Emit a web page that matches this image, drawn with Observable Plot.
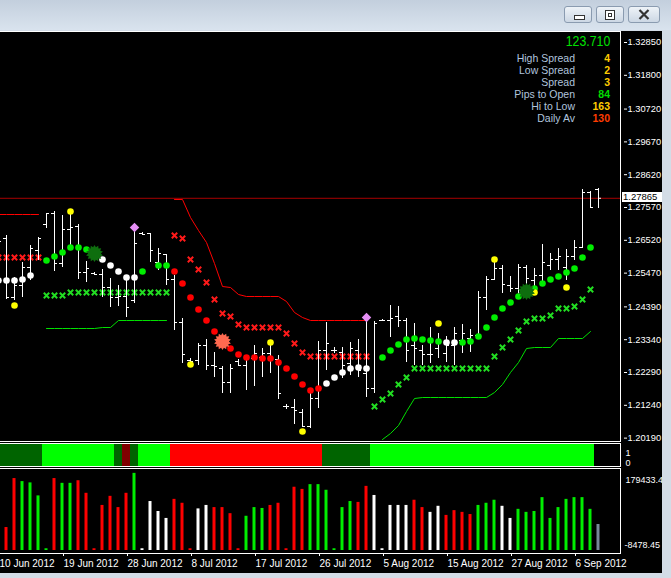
<!DOCTYPE html>
<html><head><meta charset="utf-8">
<script src="https://cdn.jsdelivr.net/npm/d3@7"></script>
<script src="https://cdn.jsdelivr.net/npm/@observablehq/plot@0.6"></script>
<style>
html,body{margin:0;padding:0;background:#d3dce6;}
#win{position:relative;width:671px;height:578px;overflow:hidden;background:#d3dce6;font-family:"Liberation Sans",Arial,sans-serif;}
#title{position:absolute;left:0;top:0;width:671px;height:30px;background:linear-gradient(#c3cfdd,#d9e3ee);}
.btn{position:absolute;top:6px;height:17px;border:1px solid #8a9bb0;border-radius:3px;background:linear-gradient(#eef3f8,#ccd7e4);box-sizing:border-box;}
#chart{position:absolute;left:0;top:31px;width:662px;height:542px;background:#000;}
.ln{position:absolute;background:#fff;}
.pane{position:absolute;left:0;}
.lab{position:absolute;right:96px;color:#b0c4de;font-size:10.5px;line-height:12px;white-space:nowrap;}
.val{position:absolute;right:61px;font-size:10.5px;line-height:12px;font-weight:bold;white-space:nowrap;}
</style></head>
<body><div id="win">
<div id="title">
  <div class="btn" style="left:564px;width:28px;"><div style="position:absolute;left:9px;top:8px;width:9px;height:3px;border:1px solid #333;background:#fff;"></div></div>
  <div class="btn" style="left:596px;width:28px;"><div style="position:absolute;left:8px;top:3px;width:8px;height:8px;border:1px solid #333;background:#fff;"><div style="position:absolute;left:2px;top:2px;width:2px;height:2px;border:1px solid #333;"></div></div></div>
  <div class="btn" style="left:628px;width:32px;"><svg width="30" height="15" style="position:absolute;left:0;top:0"><path d="M10.5 3 L19.5 12 M19.5 3 L10.5 12" stroke="#333" stroke-width="2.2"/></svg></div>
</div>
<div id="chart"></div>
<div id="mainPane" class="pane" style="top:31px"></div>
<div id="indPane" class="pane" style="top:444px"></div>
<div id="volPane" class="pane" style="top:469px"></div>
<div class="ln" style="left:0;top:31px;width:621px;height:1px"></div>
<div class="ln" style="left:620px;top:31px;width:1px;height:411px"></div>
<div class="ln" style="left:0;top:441px;width:621px;height:1px"></div>
<div class="ln" style="left:0;top:443px;width:621px;height:1px"></div>
<div class="ln" style="left:0;top:466px;width:621px;height:1px"></div>
<div class="ln" style="left:620px;top:443px;width:1px;height:24px"></div>
<div class="ln" style="left:0;top:468px;width:621px;height:1px"></div>
<div class="ln" style="left:620px;top:468px;width:1px;height:86px"></div>
<div class="ln" style="left:0;top:553px;width:621px;height:1px"></div>
<div id="panel"></div>
<div id="bidBox" style="position:absolute;left:622px;width:40px;height:10px;background:#fff;color:#000;font-size:9.5px;line-height:10px;padding-left:1px;box-sizing:border-box;overflow:hidden;"></div>
</div>
<script>
// ---------- data ----------
const idx = d3.range(-1, 75);
const high = [1.26642,
1.26674,1.25330,1.25810,1.26354,1.26610,1.27378,1.27442,1.27314,1.27378,1.27026,
1.25842,1.25490,1.25586,1.25298,1.25074,1.25330,1.26866,1.26770,1.26738,1.26258,
1.26066,1.25394,1.24018,1.22738,1.23218,1.23346,1.22930,1.22482,1.22546,1.22706,
1.22770,1.23154,1.23058,1.23218,1.22834,1.21266,1.21426,1.21106,1.21618,1.23282,
1.23890,1.23090,1.23090,1.23250,1.23346,1.24114,1.23922,1.23986,1.24434,1.24402,
1.24018,1.23858,1.23154,1.23730,1.23538,1.23442,1.23730,1.23826,1.23666,1.24882,
1.25362,1.25810,1.25714,1.25362,1.25746,1.25714,1.25618,1.26386,1.26098,1.26258,
1.26226,1.26514,1.28146,1.28082,1.28178];
const low = [1.24914,
1.24626,1.24594,1.24690,1.25234,1.25874,1.26898,1.25522,1.25650,1.26290,1.25266,
1.25170,1.25394,1.24690,1.24370,1.24402,1.24050,1.24498,1.26674,1.25810,1.25554,
1.25074,1.23634,1.22578,1.22578,1.22514,1.22354,1.22130,1.21618,1.21618,1.22482,
1.21714,1.21842,1.22130,1.22258,1.21426,1.21106,1.20626,1.20530,1.20498,1.21138,
1.22354,1.22898,1.22098,1.22194,1.22130,1.21490,1.21618,1.23922,1.23410,1.23730,
1.22610,1.22514,1.22514,1.22578,1.22738,1.22610,1.22514,1.22898,1.22930,1.23410,
1.24274,1.25234,1.24818,1.24850,1.24690,1.25010,1.24914,1.25138,1.25554,1.25554,
1.25234,1.25874,1.26258,1.27538,1.27538];
const open = [1.25554,
1.26578,1.24690,1.25074,1.25650,1.26194,1.27026,1.27378,1.25778,1.26866,1.26962,
1.25490,1.25458,1.25426,1.25010,1.24690,1.24722,1.24594,1.26738,1.26738,1.25810,
1.26066,1.25266,1.23890,1.22674,1.22674,1.23154,1.22514,1.22418,1.21970,1.22642,
1.22514,1.22738,1.22770,1.22898,1.22706,1.21202,1.21170,1.21010,1.20562,1.21458,
1.22994,1.22994,1.22930,1.22578,1.22994,1.22258,1.21778,1.23954,1.23954,1.24082,
1.23954,1.23154,1.22994,1.22866,1.23058,1.22898,1.23154,1.23314,1.23378,1.23474,
1.24690,1.25266,1.25618,1.25074,1.24978,1.25650,1.25234,1.25394,1.25714,1.25906,
1.25650,1.26002,1.26290,1.28050,1.28146];
const close = [1.26482,
1.24690,1.25074,1.25650,1.26258,1.26578,1.27378,1.25778,1.26866,1.26930,1.25490,
1.25618,1.25426,1.25010,1.24690,1.24722,1.24370,1.26418,1.26706,1.26194,1.26098,
1.25266,1.23890,1.22866,1.22642,1.23154,1.22514,1.22482,1.21970,1.22418,1.22514,
1.22738,1.22898,1.22898,1.22674,1.21618,1.21202,1.21074,1.20562,1.21458,1.22994,
1.23218,1.22994,1.22514,1.23058,1.22354,1.21778,1.23858,1.23954,1.24018,1.23954,
1.22994,1.23058,1.22866,1.22866,1.23314,1.23154,1.23538,1.23538,1.23474,1.24690,
1.25266,1.25618,1.25106,1.24978,1.25650,1.25298,1.25394,1.25810,1.25906,1.26002,
1.26002,1.26290,1.28050,1.27570,1.27865];
const midVal = [1.25234,
1.25234,1.25234,1.25266,1.25394,null,1.25874,1.26002,1.26130,1.26290,1.26290,
1.26226,1.26098,1.25906,1.25714,1.25522,1.25330,1.25330,1.25522,null,1.25714,
1.25714,1.25522,1.25138,1.24690,1.24306,1.23954,1.23602,1.23282,1.23058,1.22866,
1.22770,1.22770,1.22738,1.22738,1.22610,1.22418,1.22162,1.21906,1.21714,1.21778,
1.21938,1.22130,1.22290,1.22418,1.22450,1.22418,null,1.22770,1.22994,1.23186,
1.23346,1.23378,1.23346,1.23314,1.23282,1.23250,1.23250,1.23250,1.23282,1.23442,
1.23730,1.24050,1.24338,1.24530,1.24722,1.24882,1.24978,1.25138,1.25266,1.25362,
1.25490,1.25618,1.25970,1.26290,null];
const midCol = ["w",
"w","w","w","w","","g","g","g","g","g",
"g","g","w","w","w","w","w","g","","g",
"g","r","r","r","r","r","r","r","r","r",
"r","r","r","r","r","r","r","r","r","r",
"w","w","w","w","w","w","","g","g","g",
"g","g","g","g","g","w","w","g","g","g",
"g","g","g","g","g","g","g","g","g","g",
"g","g","g","g",""];
const N = null;
const trailUp = [1.25970,
1.25970,1.25970,1.25970,1.25970,1.25970,N,N,N,N,N,
N,N,N,N,N,N,N,N,N,N,
N,1.26674,1.26578,1.25906,1.25586,1.25170,1.24626,1.24178,1.24082,1.23826,
1.23730,1.23730,1.23730,1.23730,1.23730,1.23538,1.23218,1.22930,1.22802,1.22802,
1.22802,1.22802,1.22802,1.22802,1.22802,1.22802,N,N,N,N,
N,N,N,N,N,N,N,N,N,N,
N,N,N,N,N,N,N,N,N,N,
N,N,N,N,N];
const trailDn = [N,
N,N,N,N,N,1.24754,1.24754,1.24754,1.24850,1.24850,
1.24850,1.24850,1.24850,1.24850,1.24850,1.24850,1.24850,1.24850,1.24850,1.24850,
1.24850,N,N,N,N,N,N,N,N,N,
N,N,N,N,N,N,N,N,N,N,
N,N,N,N,N,N,1.21202,1.21426,1.21618,1.21906,
1.22130,1.22418,1.22418,1.22418,1.22418,1.22418,1.22418,1.22418,1.22418,1.22418,
1.22418,1.22802,1.23090,1.23346,1.23634,1.23922,1.24018,1.24018,1.24114,1.24338,
1.24338,1.24402,1.24626,1.24946,N];
const bandUp = [1.27346,
1.27346,1.27346,1.27346,1.27346,1.27346,N,N,N,N,N,
N,N,N,N,N,N,N,N,N,N,
N,1.27826,1.27826,1.27250,1.26834,1.26450,1.25778,1.25042,1.25010,1.24786,
1.24722,1.24722,1.24722,1.24722,1.24722,1.24562,1.24210,1.24050,1.23954,1.23954,
1.23954,1.23954,1.23954,1.23954,1.23954,1.23954,N,N,N,N,
N,N,N,N,N,N,N,N,N,N,
N,N,N,N,N,N,N,N,N,N,
N,N,N,N,N];
const bandDn = [N,
N,N,N,N,N,1.23698,1.23698,1.23698,1.23698,1.23698,
1.23698,1.23698,1.23730,1.23730,1.23954,1.23954,1.23954,1.23954,1.23954,1.23954,
1.23954,N,N,N,N,N,N,N,N,N,
N,N,N,N,N,N,N,N,N,N,
N,N,N,N,N,N,N,1.20146,1.20338,1.20594,
1.21042,1.21458,1.21490,1.21490,1.21490,1.21490,1.21490,1.21490,1.21490,1.21490,
1.21490,1.21650,1.21906,1.22290,1.22610,1.23058,1.23090,1.23090,1.23090,1.23378,
1.23378,1.23378,1.23378,1.23602,N];
const yellowIdx = [1, 8, 23, 33, 37, 54, 61, 66, 70];
const yellowVal = [1.24434, 1.27442, 1.22546, 1.23250, 1.20402, 1.23858, 1.25906, 1.24850, 1.25010];
const pinkIdx = [16, 45];
const pinkVal = [1.26930, 1.24050];
const starIdx = [11, 27, 65];
const starVal = [1.26098, 1.23282, 1.24882];
const starCol = ["#0e6e0e", "#ff6a50", "#0e6e0e"];
const indState = ["D",
"D","D","D","D","D","L","L","L","L","L",
"L","L","L","L","D","M","D","L","L","L",
"L","R","R","R","R","R","R","R","R","R",
"R","R","R","R","R","R","R","R","R","R",
"D","D","D","D","D","D","L","L","L","L",
"L","L","L","L","L","L","L","L","L","L",
"L","L","L","L","L","L","L","L","L","L",
"L","L","L","L",""];
const vol = [null,
53,166,159,156,126,4,166,155,155,161,
132,4,104,125,99,132,178,4,113,90,
74,118,109,4,96,104,99,99,85,4,
79,99,97,104,109,4,146,141,152,152,
139,4,99,113,111,148,127,4,104,104,
104,116,99,88,102,81,92,88,83,104,
109,116,102,74,95,88,90,122,74,99,
118,122,122,95,60];
const volCol = ["",
"r","r","g","g","g","g","r","g","g","r",
"r","r","r","r","r","r","g","w","w","w",
"w","r","r","r","w","w","r","r","r","r",
"g","g","g","r","r","r","r","r","g","g",
"g","g","g","g","r","r","w","w","w","w",
"w","r","r","w","w","r","r","r","r","g",
"g","g","w","w","g","g","g","g","g","g",
"g","g","g","g","s"];
const priceTicks = [1.32850,1.31800,1.30720,1.29670,1.28620,1.27570,1.26520,1.25470,1.24390,1.23340,1.22290,1.21240,1.20190];
const bid = 1.27865;
const dateIdx = [-1, 7, 15, 23, 31, 39, 47, 55, 63, 71];
const dateLabels = ["10 Jun 2012","19 Jun 2012","28 Jun 2012","8 Jul 2012","17 Jul 2012","26 Jul 2012","5 Aug 2012","15 Aug 2012","27 Aug 2012","6 Sep 2012"];
const volTopLabel = "179433.4", volBottomLabel = "-8478.45";
const quote = "123.710";
const statLabels = ["High Spread","Low Spread","Spread","Pips to Open","Hi to Low","Daily Av"];
const statValues = ["4","2","3","84","163","130"];
const statColors = ["#ffcc00","#ffcc00","#ffcc00","#00dd00","#ffcc00","#ff3c00"];

// ---------- build ----------
const rows = idx.map((i, k) => ({i, o: open[k], h: high[k], l: low[k], c: close[k],
  m: midVal[k], mc: midCol[k], tu: trailUp[k], td: trailDn[k], bu: bandUp[k], bd: bandDn[k],
  ind: indState[k], v: vol[k], vc: volCol[k]}));
const yellows = yellowIdx.map((i, k) => ({i, v: yellowVal[k]}));
const pinks = pinkIdx.map((i, k) => ({i, v: pinkVal[k]}));
const stars = starIdx.map((i, k) => ({i, v: starVal[k], col: starCol[k]}));
const dotColors = {w: "#ffffff", g: "#00ee00", r: "#ff0000"};
const indColors = {D: "#006400", L: "#00ff00", R: "#ff0000", M: "#800000"};
const volColors = {r: "#ff0000", g: "#00ee00", w: "#ffffff", s: "#778899"};

const burst = {draw(ctx, size) {
  const R = Math.sqrt(size / Math.PI), r2 = R * 0.74, n = 14;
  for (let k = 0; k < 2 * n; k++) {
    const a = k * Math.PI / n, rr = k % 2 ? r2 : R;
    const x = rr * Math.sin(a), y = -rr * Math.cos(a);
    if (k) ctx.lineTo(x, y); else ctx.moveTo(x, y);
  }
  ctx.closePath();
}};
const xmark = {draw(ctx, size) {
  const r = Math.sqrt(size / Math.PI);
  ctx.moveTo(-r, -r); ctx.lineTo(r, r); ctx.moveTo(r, -r); ctx.lineTo(-r, r);
}};

const xDomain = [-0.75, 76.75];
const font = "'Liberation Sans', Arial, sans-serif";
const baseStyle = {background: "transparent", color: "#ffffff", fontFamily: font, fontSize: "9px", overflow: "hidden"};

const main = Plot.plot({
  width: 662, height: 411, marginLeft: 0, marginRight: 42, marginTop: 0, marginBottom: 0,
  x: {domain: xDomain, axis: null},
  y: {domain: [1.2005, 1.33202], axis: null},
  color: {type: "identity"},
  style: baseStyle,
  marks: [
    Plot.ruleY([bid], {stroke: "#a80000"}),
    Plot.line(rows, {x: "i", y: "bu", stroke: "#ff0000", strokeWidth: 1}),
    Plot.line(rows, {x: "i", y: "bd", stroke: "#00e000", strokeWidth: 1}),
    Plot.dot(rows.filter(d => d.tu != null), {x: "i", y: "tu", r: 2.7, symbol: xmark, stroke: "#ff1a1a", strokeWidth: 2, fill: "none"}),
    Plot.dot(rows.filter(d => d.td != null), {x: "i", y: "td", r: 2.7, symbol: xmark, stroke: "#22dd22", strokeWidth: 2, fill: "none"}),
    Plot.ruleX(rows, {x: "i", y1: "l", y2: "h", stroke: "#ffffff"}),
    Plot.ruleY(rows, {y: "o", x1: d => d.i - 0.375, x2: "i", stroke: "#ffffff"}),
    Plot.ruleY(rows, {y: "c", x1: "i", x2: d => d.i + 0.375, stroke: "#ffffff"}),
    Plot.dot(rows.filter(d => d.m != null), {x: "i", y: "m", r: 3.3, fill: d => dotColors[d.mc]}),
    Plot.dot(yellows, {x: "i", y: "v", r: 3.3, fill: "#ffff00"}),
    Plot.dot(stars, {x: "i", y: "v", r: 8.6, symbol: burst, fill: "col"}),
    Plot.dot(pinks, {x: "i", y: "v", r: 4.3, symbol: "diamond2", fill: "#e68ff5"}),
    Plot.axisY(priceTicks, {anchor: "right", tickSize: 3, tickPadding: 1, dx: 3, fontSize: 9.3, tickFormat: d => d.toFixed(5), stroke: "#ffffff", fill: "#ffffff"})
  ]
});
document.getElementById("mainPane").append(main);

const ind = Plot.plot({
  width: 662, height: 22, marginLeft: 0, marginRight: 42, marginTop: 0, marginBottom: 0,
  x: {domain: xDomain, axis: null},
  y: {domain: [0, 1], axis: null},
  color: {type: "identity"},
  style: {...baseStyle, overflow: "visible"},
  marks: [
    Plot.rect(rows.filter(d => d.ind), {x1: d => d.i - 0.5, x2: d => d.i + 0.5, y1: d => 0, y2: d => 1, fill: d => indColors[d.ind], inset: 0, shapeRendering: "crispEdges"}),
    Plot.text(["1"], {frameAnchor: "top-right", dx: 5, dy: 5.5, textAnchor: "start", fill: "#ffffff"}),
    Plot.text(["0"], {frameAnchor: "top-right", dx: 5, dy: 15, textAnchor: "start", fill: "#ffffff"})
  ]
});
document.getElementById("indPane").append(ind);

const volp = Plot.plot({
  width: 662, height: 109, marginLeft: 0, marginRight: 42, marginTop: 0, marginBottom: 25,
  x: {domain: xDomain, axis: null},
  y: {domain: [-6.923, 186.92], axis: null},
  color: {type: "identity"},
  style: baseStyle,
  marks: [
    Plot.rect(rows.filter(d => d.v != null), {x1: d => d.i - 0.1875, x2: d => d.i + 0.1875, y1: d => 0, y2: "v", fill: d => volColors[d.vc], inset: 0}),
    Plot.axisX(dateIdx, {anchor: "bottom", tickSize: 3, tickPadding: 3, textAnchor: "start", dx: 1, fontSize: 10, tickFormat: d => dateLabels[dateIdx.indexOf(d)], stroke: "#ffffff", fill: "#ffffff"}),
    Plot.text([volTopLabel], {frameAnchor: "top-right", dx: 5, dy: 7, textAnchor: "start", fill: "#ffffff"}),
    Plot.text([volBottomLabel], {frameAnchor: "bottom-right", dx: 4, dy: -6, textAnchor: "start", fill: "#ffffff"})
  ]
});
document.getElementById("volPane").append(volp);

// bid label on the price axis
const by = main.scale("y").apply(bid) + 31;
const bb = document.getElementById("bidBox");
bb.style.top = (by - 6) + "px";
bb.textContent = bid.toFixed(5);

// info panel
const panel = document.getElementById("panel");
const q = document.createElement("div");
q.textContent = quote;
Object.assign(q.style, {position: "absolute", right: "61px", top: "33px", fontSize: "15px", lineHeight: "16px", color: "#00e000", transform: "scaleX(0.82)", transformOrigin: "right center"});
panel.append(q);
statLabels.forEach((t, k) => {
  const a = document.createElement("div");
  a.className = "lab"; a.textContent = t; a.style.top = (52 + 12 * k) + "px";
  const b = document.createElement("div");
  b.className = "val"; b.textContent = statValues[k]; b.style.top = (52 + 12 * k) + "px"; b.style.color = statColors[k];
  panel.append(a, b);
});
</script>
</body></html>
